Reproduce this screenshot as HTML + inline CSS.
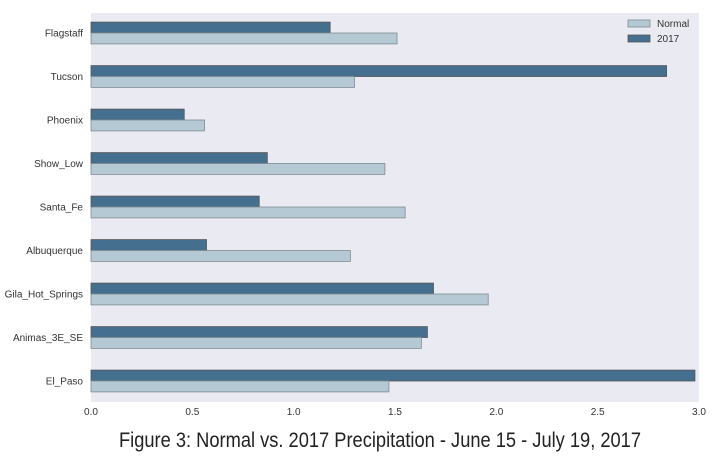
<!DOCTYPE html>
<html><head><meta charset="utf-8"><style>
body{margin:0;background:#fff;width:720px;height:456px;overflow:hidden}
svg text{font-family:"Liberation Sans",sans-serif}
</style></head><body>
<svg width="720" height="456">
<rect x="91" y="13" width="608" height="389" fill="#eaeaf2"/>
<g id="bars"></g><g id="ylabels"></g><g id="xticks"></g>
<g>
<rect x="628" y="20" width="22" height="7" fill="#b5c9d4" stroke="#7f8a90" stroke-width="0.8"/>
<text x="657" y="27" font-size="10" fill="#333">Normal</text>
<rect x="628" y="35" width="22" height="7" fill="#456f8f" stroke="#555" stroke-width="0.8"/>
<text x="657" y="42" font-size="10" fill="#333">2017</text>
</g>
<text x="380" y="447" text-anchor="middle" font-size="21" fill="#222" textLength="522" lengthAdjust="spacingAndGlyphs">Figure 3: Normal vs. 2017 Precipitation - June 15 - July 19, 2017</text>
</svg>
<script>
const categories=["Flagstaff","Tucson","Phoenix","Show_Low","Santa_Fe","Albuquerque","Gila_Hot_Springs","Animas_3E_SE","El_Paso"];
const normalValues=[1.51,1.30,0.56,1.45,1.55,1.28,1.96,1.63,1.47];
const values2017=[1.18,2.84,0.46,0.87,0.83,0.57,1.69,1.66,2.98];
const xTicks=["0.0","0.5","1.0","1.5","2.0","2.5","3.0"];
const NS="http://www.w3.org/2000/svg";
const x=v=>91+v*(608/3);
const yc=i=>33+i*43.5;
const bh=10.9;
const gb=document.getElementById('bars'),gl=document.getElementById('ylabels'),gx=document.getElementById('xticks');
function mk(tag,a){const e=document.createElementNS(NS,tag);for(const k in a)e.setAttribute(k,a[k]);return e;}
categories.forEach((c,i)=>{
  const r1=mk('rect',{x:x(0),y:yc(i)-bh,width:x(values2017[i])-x(0),height:bh,fill:'#456f8f',stroke:'#555','stroke-width':0.8});
  
  
  gb.appendChild(r1);
  const r2=mk('rect',{x:x(0),y:yc(i),width:x(normalValues[i])-x(0),height:bh,fill:'#b5c9d4',stroke:'#7f8a90','stroke-width':0.8});
  
  
  gb.appendChild(r2);
  const t=mk('text',{x:83,y:yc(i)+3.5,'text-anchor':'end','font-size':10,fill:'#333'});
  t.textContent=c;
  
  
  gl.appendChild(t);
});
xTicks.forEach(s=>{
  const t=mk('text',{x:x(parseFloat(s)),y:415,'text-anchor':'middle','font-size':10,fill:'#333'});
  t.textContent=s;
  
  
  gx.appendChild(t);
});
</script>
</body></html>
